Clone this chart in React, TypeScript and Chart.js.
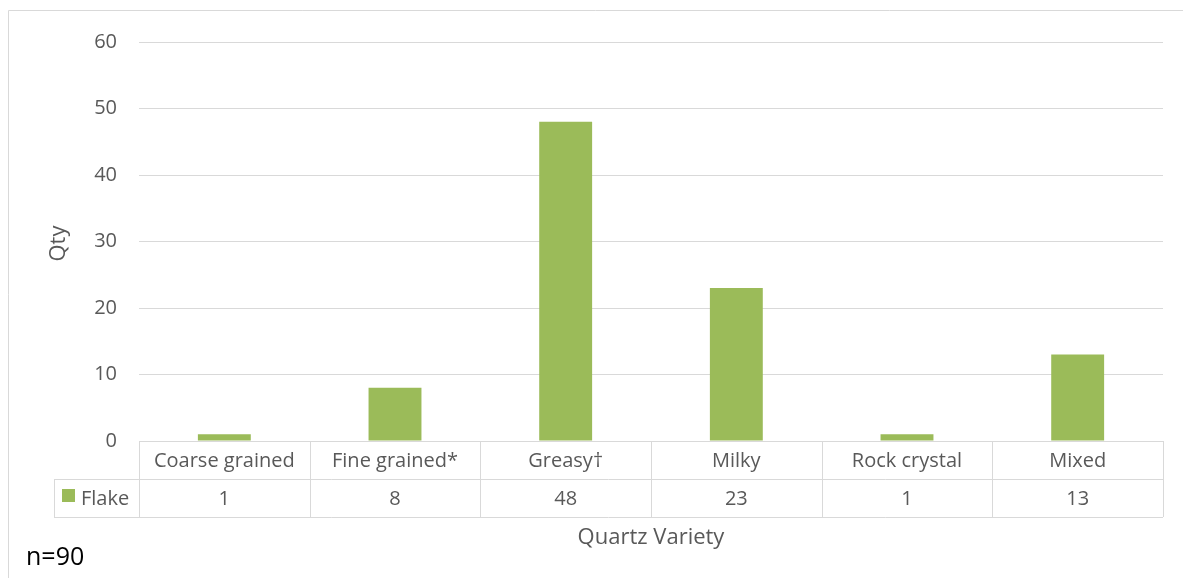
import React, { useEffect, useRef } from "react";
import { Chart, registerables } from "chart.js";

Chart.register(...registerables);

const categories = ["Coarse grained", "Fine grained*", "Greasy†", "Milky", "Rock crystal", "Mixed"];
const flakeValues = [1, 8, 48, 23, 1, 13];
const seriesName = "Flake";
const yTitle = "Qty";
const xTitle = "Quartz Variety";
const note = "n=90";

const GREEN = "#9BBB59";
const GRID = "#d9d9d9";
const TEXT = "#595959";
const FONT = "'Open Sans', 'Noto Sans', sans-serif";

const W = 1175;
const H = 570;

const decorPlugin = {
  id: "decor",
  afterDraw(chart: any) {
    const ctx = chart.ctx;
    const area = chart.chartArea;
    const xs = chart.scales.x;
    const n = categories.length;
    const colW = (area.right - area.left) / n;
    const rowH = 38;
    const top = area.bottom;
    const mid = top + rowH;
    const bot = mid + rowH;
    const legendLeft = 46;

    ctx.save();
    // outer border (right and bottom edges fall outside the view)
    ctx.strokeStyle = GRID;
    ctx.lineWidth = 1;
    ctx.beginPath();
    ctx.moveTo(0.5, H);
    ctx.lineTo(0.5, 2.5);
    ctx.lineTo(W, 2.5);
    ctx.stroke();

    // table lines
    ctx.beginPath();
    const hl = (x1: number, x2: number, y: number) => {
      ctx.moveTo(x1, Math.round(y) + 0.5);
      ctx.lineTo(x2, Math.round(y) + 0.5);
    };
    const vl = (x: number, y1: number, y2: number) => {
      ctx.moveTo(Math.round(x) + 0.5, y1);
      ctx.lineTo(Math.round(x) + 0.5, y2);
    };
    hl(area.left, area.right, top);
    hl(legendLeft, area.right, mid);
    hl(legendLeft, area.right, bot);
    for (let i = 0; i <= n; i++) {
      vl(area.left + i * colW, top, bot);
    }
    vl(legendLeft, mid, bot);
    ctx.stroke();

    // table text
    ctx.fillStyle = TEXT;
    ctx.font = `20px ${FONT}`;
    ctx.textAlign = "center";
    ctx.textBaseline = "middle";
    categories.forEach((c, i) => {
      const cx = xs.getPixelForValue(i);
      ctx.fillText(c, cx, top + rowH / 2 + 1);
      ctx.fillText(String(flakeValues[i]), cx, mid + rowH / 2 + 1);
    });

    // legend cell
    ctx.fillStyle = GREEN;
    ctx.fillRect(54, mid + 10, 13, 13);
    ctx.fillStyle = TEXT;
    ctx.textAlign = "left";
    ctx.fillText(seriesName, 73, mid + rowH / 2 + 1);

    // x title
    ctx.font = `22px ${FONT}`;
    ctx.textAlign = "center";
    ctx.fillText(xTitle, (area.left + area.right) / 2, 530);

    // y title
    ctx.save();
    ctx.translate(51, (area.top + area.bottom) / 2 + 2);
    ctx.rotate(-Math.PI / 2);
    ctx.fillText(yTitle, 0, 0);
    ctx.restore();

    // note
    ctx.fillStyle = "#000000";
    ctx.font = `25px ${FONT}`;
    ctx.textAlign = "left";
    ctx.textBaseline = "alphabetic";
    ctx.fillText(note, 18, 557);
    ctx.restore();
  },
};

export default function App() {
  const ref = useRef<HTMLCanvasElement | null>(null);
  useEffect(() => {
    document.documentElement.style.overflow = "hidden";
    document.body.style.overflow = "hidden";
    if (!ref.current) return;
    const chart = new Chart(ref.current, {
      type: "bar",
      data: {
        labels: categories,
        datasets: [
          {
            label: seriesName,
            data: flakeValues,
            backgroundColor: GREEN,
            borderWidth: 0,
            barPercentage: 0.31,
            categoryPercentage: 1,
          },
        ],
      },
      options: {
        responsive: false,
        animation: false,
        layout: { padding: { top: 32, right: 20, bottom: 137, left: 0 } },
        plugins: { legend: { display: false }, tooltip: { enabled: false } },
        scales: {
          x: { display: false },
          y: {
            min: 0,
            max: 60,
            ticks: {
              stepSize: 10,
              color: TEXT,
              font: { size: 20, family: FONT },
              padding: 22,
            },
            grid: { color: GRID, drawTicks: false, lineWidth: 1 },
            border: { display: false },
            afterFit: (s: any) => {
              s.width = 131;
            },
          },
        },
      },
      plugins: [decorPlugin],
    });
    return () => chart.destroy();
  }, []);
  return (
    <div style={{ position: "fixed", left: 8, top: 8, width: W, height: H, overflow: "hidden" }}>
      <canvas ref={ref} width={W} height={H} style={{ display: "block", width: W, height: H }} />
    </div>
  );
}
